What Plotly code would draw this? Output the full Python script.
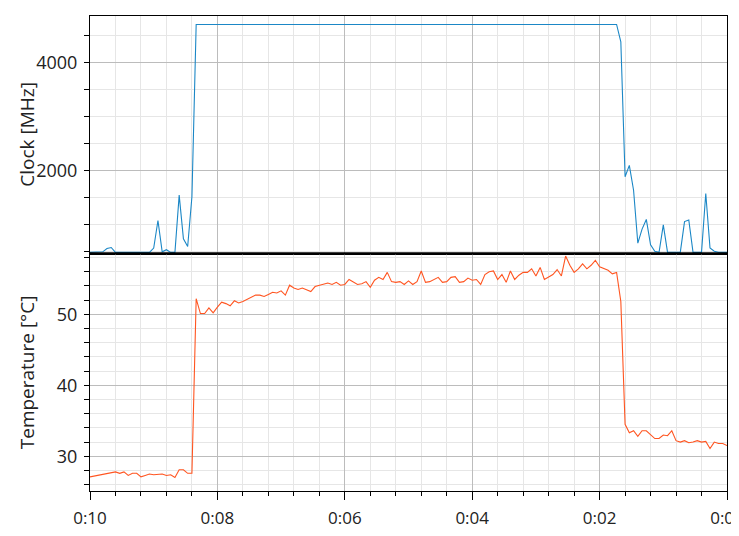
import plotly.graph_objects as go

# ---- data (sampled every 4 s over the last 10 minutes; index 0 = 10 min ago) ----
sample_interval_s = 4
clock_mhz = [
    480, 480, 480, 490, 550, 570, 480, 480, 480, 480,
    480, 480, 480, 480, 480, 560, 1070, 490, 530, 480,
    480, 1540, 730, 590, 1510, 4700, 4700, 4700, 4700, 4700,
    4700, 4700, 4700, 4700, 4700, 4700, 4700, 4700, 4700, 4700,
    4700, 4700, 4700, 4700, 4700, 4700, 4700, 4700, 4700, 4700,
    4700, 4700, 4700, 4700, 4700, 4700, 4700, 4700, 4700, 4700,
    4700, 4700, 4700, 4700, 4700, 4700, 4700, 4700, 4700, 4700,
    4700, 4700, 4700, 4700, 4700, 4700, 4700, 4700, 4700, 4700,
    4700, 4700, 4700, 4700, 4700, 4700, 4700, 4700, 4700, 4700,
    4700, 4700, 4700, 4700, 4700, 4700, 4700, 4700, 4700, 4700,
    4700, 4700, 4700, 4700, 4700, 4700, 4700, 4700, 4700, 4700,
    4700, 4700, 4700, 4700, 4700, 4700, 4700, 4700, 4700, 4700,
    4700, 4700, 4700, 4700, 4700, 4380, 1880, 2090, 1630, 650,
    910, 1090, 620, 500, 480, 990, 480, 480, 480, 480,
    1050, 1080, 480, 480, 480, 1570, 560, 500, 480, 480,
    480,
]
temperature_c = [
    27.1, 27.2, 27.3, 27.4, 27.5, 27.6, 27.8, 27.6, 27.8, 27.3,
    27.6, 27.6, 27.1, 27.3, 27.5, 27.4, 27.5, 27.5, 27.3, 27.4,
    27.0, 28.1, 28.1, 27.6, 27.6, 52.2, 50.1, 50.1, 50.9, 50.2,
    51.0, 51.7, 51.5, 51.2, 51.9, 51.6, 51.8, 52.1, 52.3, 52.7,
    52.7, 52.5, 52.8, 53.1, 53.0, 53.3, 52.7, 54.1, 53.7, 53.5,
    53.7, 53.5, 53.2, 53.9, 54.1, 54.2, 54.4, 54.2, 54.5, 54.1,
    54.2, 54.9, 54.5, 54.2, 54.3, 54.6, 53.8, 54.8, 55.2, 54.9,
    55.9, 54.6, 54.5, 54.6, 54.2, 54.7, 54.2, 54.6, 56.1, 54.5,
    54.6, 54.9, 55.2, 54.5, 54.6, 55.2, 55.3, 54.5, 54.6, 55.1,
    54.8, 54.9, 54.2, 55.6, 56.0, 56.1, 54.9, 55.6, 54.5, 56.1,
    54.9, 55.5, 55.9, 55.9, 56.4, 55.4, 56.6, 54.9, 55.3, 55.6,
    56.3, 55.4, 58.2, 56.9, 55.9, 56.4, 57.1, 56.4, 56.9, 57.6,
    56.7, 56.4, 56.2, 55.7, 55.9, 51.8, 34.5, 33.3, 33.6, 32.8,
    33.6, 33.6, 33.1, 32.5, 32.5, 33.0, 32.9, 33.6, 32.2, 32.0,
    32.2, 31.9, 32.0, 32.2, 32.0, 32.1, 31.1, 32.0, 31.8, 31.8,
    31.5,
]
n = len(clock_mhz)
minutes_ago = [(n - 1 - i) * sample_interval_s / 60 for i in range(n)]

x_tick_vals = [10, 8, 6, 4, 2, 0]
x_tick_text = ["0:10", "0:08", "0:06", "0:04", "0:02", "0:00"]
clock_tick_vals = [2000, 4000]
temp_tick_vals = [30, 40, 50]
clock_title = "Clock [MHz]"
temp_title = "Temperature [°C]"

FONT = "Open Sans"
TEXT = "#222222"
MAJOR_GRID = "#bcbcbc"
MINOR_GRID = "#e6e6e6"

fig = go.Figure()
fig.add_trace(go.Scatter(x=minutes_ago, y=clock_mhz, mode="lines",
                         line=dict(color="#1b87c6", width=1.1),
                         xaxis="x", yaxis="y", showlegend=False))
fig.add_trace(go.Scatter(x=minutes_ago, y=temperature_c, mode="lines",
                         line=dict(color="#ff5521", width=1.1),
                         xaxis="x2", yaxis="y2", showlegend=False))

minor_x = [round(k * 0.4, 2) for k in range(0, 26)]

common_x = dict(
    range=[10, 0], tickmode="array", tickvals=x_tick_vals,
    showgrid=True, gridcolor=MAJOR_GRID, gridwidth=1,
    showline=True, linecolor="black", linewidth=1, mirror=True,
    zeroline=False, automargin=False,
)

title_font = dict(family=FONT, size=19, color=TEXT)

fig.update_layout(
    width=739, height=536,
    margin=dict(l=82, r=20, t=8, b=53),
    paper_bgcolor="white", plot_bgcolor="white",
    font=dict(family=FONT, size=18, color=TEXT),
    xaxis=dict(**common_x, anchor="y", domain=[0, 1], matches="x2",
               showticklabels=False, ticks="",
               minor=dict(tickmode="array", tickvals=minor_x, showgrid=True,
                          gridcolor=MINOR_GRID, ticks="")),
    xaxis2=dict(**common_x, anchor="y2", domain=[0, 1],
                ticktext=x_tick_text, ticks="outside", ticklen=8,
                tickcolor="black", tickfont=dict(size=17),
                ticklabelstandoff=4, ticklabeloverflow="allow",
                minor=dict(tickmode="array", tickvals=minor_x, showgrid=True,
                           gridcolor=MINOR_GRID, ticks="outside", ticklen=4,
                           tickcolor="black")),
    yaxis=dict(domain=[0.5, 1], anchor="x", range=[459, 4857],
               tickmode="array", tickvals=clock_tick_vals, ticks="",
               showgrid=True, gridcolor=MAJOR_GRID, zeroline=False,
               showline=True, linecolor="black", linewidth=1, mirror=True,
               ticklabelstandoff=8, automargin=False,
               minor=dict(tick0=0, dtick=500, showgrid=True,
                          gridcolor=MINOR_GRID, ticks="outside", ticklen=5,
                          tickcolor="black")),
    yaxis2=dict(domain=[0, 0.5], anchor="x2", range=[25.11, 58.56],
                tickmode="array", tickvals=temp_tick_vals, ticks="",
                showgrid=True, gridcolor=MAJOR_GRID, zeroline=False,
                showline=True, linecolor="black", linewidth=1, mirror=True,
                ticklabelstandoff=8, automargin=False,
                minor=dict(tick0=0, dtick=2, showgrid=True,
                           gridcolor=MINOR_GRID, ticks="outside", ticklen=5,
                           tickcolor="black")),
    annotations=[
        dict(text=clock_title, xref="paper", yref="paper", x=0, y=0.75,
             xanchor="center", yanchor="middle", xshift=-63, textangle=-90,
             showarrow=False, font=title_font),
        dict(text=temp_title, xref="paper", yref="paper", x=0, y=0.25,
             xanchor="center", yanchor="middle", xshift=-63, textangle=-90,
             showarrow=False, font=title_font),
    ],
    shapes=[dict(type="line", xref="paper", yref="paper", x0=0, x1=1,
                 y0=0.5, y1=0.5, line=dict(color="black", width=2.5))],
)

fig.write_html("out.html")
